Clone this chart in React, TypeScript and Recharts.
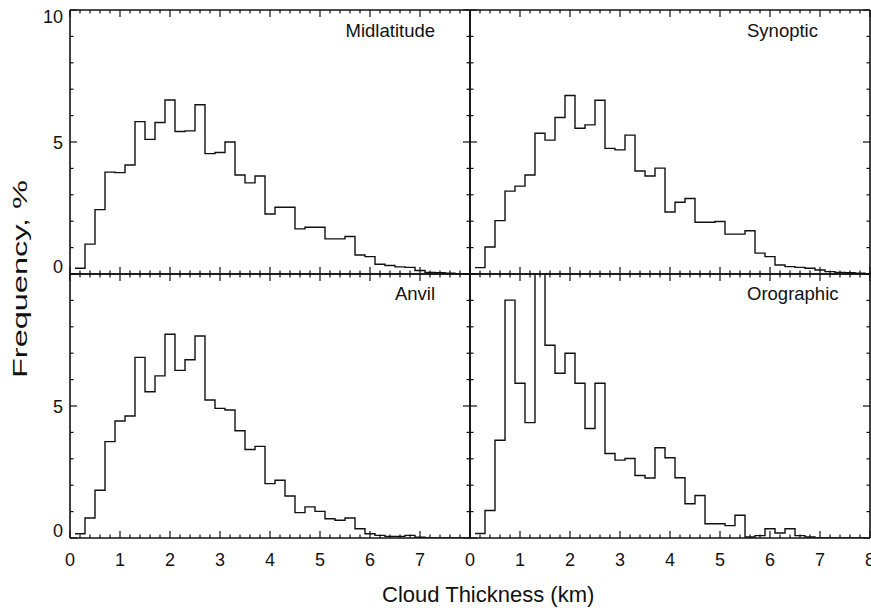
import React from 'react';
import { LineChart, Line, XAxis, YAxis, Customized } from 'recharts';

const W = 871;
const H = 610;
const FONT = '"Liberation Sans", Arial, Helvetica, sans-serif';
const INK = '#111';
const AX = 10; // room given to each axis

// left edge of each 0.2 km bin
const binStarts = [
  0.1, 0.3, 0.5, 0.7, 0.9, 1.1, 1.3, 1.5, 1.7, 1.9,
  2.1, 2.3, 2.5, 2.7, 2.9, 3.1, 3.3, 3.5, 3.7, 3.9,
  4.1, 4.3, 4.5, 4.7, 4.9, 5.1, 5.3, 5.5, 5.7, 5.9,
  6.1, 6.3, 6.5, 6.7, 6.9, 7.1, 7.3, 7.5, 7.7, 7.9,
];

const xTicks = [
  0, 0.2, 0.4, 0.6, 0.8, 1, 1.2, 1.4, 1.6, 1.8, 2, 2.2, 2.4, 2.6, 2.8, 3, 3.2, 3.4, 3.6, 3.8,
  4, 4.2, 4.4, 4.6, 4.8, 5, 5.2, 5.4, 5.6, 5.8, 6, 6.2, 6.4, 6.6, 6.8, 7, 7.2, 7.4, 7.6, 7.8, 8,
];
const yTicks = [0, 1, 2, 3, 4, 5, 6, 7, 8, 9, 10];
const xLabelsLeft = [0, 1, 2, 3, 4, 5, 6, 7];
const xLabelsRight = [0, 1, 2, 3, 4, 5, 6, 7, 8];
const yLabelsTop = [0, 5, 10];
const yLabelsBottom = [0, 5];

// frequency, %
const midlatitude = [
  0.22, 1.13, 2.44, 3.86, 3.84, 4.13, 5.77, 5.1, 5.74, 6.59,
  5.4, 5.42, 6.41, 4.56, 4.6, 5.0, 3.75, 3.45, 3.71, 2.27,
  2.53, 2.53, 1.71, 1.77, 1.77, 1.33, 1.33, 1.42, 0.72, 0.66,
  0.37, 0.32, 0.27, 0.25, 0.13, 0.06, 0.05, 0.03, 0.01, 0,
];
const synoptic = [
  0.24, 1.02, 2.02, 3.14, 3.33, 3.75, 5.33, 5.07, 5.93, 6.76,
  5.52, 5.65, 6.58, 4.76, 4.7, 5.26, 3.9, 3.71, 4.01, 2.35,
  2.72, 2.86, 1.96, 1.96, 1.99, 1.51, 1.51, 1.64, 0.79, 0.66,
  0.34, 0.28, 0.25, 0.22, 0.15, 0.09, 0.06, 0.05, 0.03, 0,
];
const anvil = [
  0.16, 0.76, 1.81, 3.65, 4.43, 4.62, 6.84, 5.54, 6.14, 7.72,
  6.35, 6.75, 7.65, 5.23, 4.91, 4.85, 4.06, 3.35, 3.47, 2.06,
  2.19, 1.59, 0.96, 1.18, 1.01, 0.73, 0.67, 0.76, 0.35, 0.16,
  0.1, 0.06, 0.06, 0.1, 0.03, 0, 0, 0, 0, 0,
];
const orographic = [
  0.17, 1.04, 3.7, 9.01, 5.86, 4.37, 12, 7.3, 6.24, 7.0,
  5.86, 4.15, 5.86, 3.2, 2.95, 3.01, 2.37, 2.27, 3.42, 3.04,
  2.28, 1.3, 1.61, 0.54, 0.54, 0.47, 0.86, 0.04, 0.09, 0.35,
  0.19, 0.35, 0.09, 0.04, 0, 0, 0, 0, 0, 0,
];

function XTick(props: any) {
  const { x, y, payload, dir, labels } = props;
  const v = payload.value;
  const major = Math.abs(v - Math.round(v)) < 1e-6;
  const len = major ? 7 : 3.5;
  const show = labels && major && labels.includes(Math.round(v));
  return (
    <g>
      <line x1={x} x2={x} y1={y} y2={y + dir * len} stroke={INK} strokeWidth={1.2} />
      {show && (
        <text x={x} y={y + 28} textAnchor="middle" fontSize={18} fontFamily={FONT} fill={INK}>
          {Math.round(v)}
        </text>
      )}
    </g>
  );
}

function YTick(props: any) {
  const { x, y, payload, dir, labels } = props;
  const v = payload.value;
  const major = v % 5 === 0;
  const len = major ? 7 : 3.5;
  const show = labels && labels.includes(v);
  const dy = v === 0 ? -1 : v === 10 ? 13 : 6.5;
  return (
    <g>
      <line x1={x} x2={x + dir * len} y1={y} y2={y} stroke={INK} strokeWidth={1.2} />
      {show && (
        <text x={x - 7} y={y + dy} textAnchor="end" fontSize={18} fontFamily={FONT} fill={INK}>
          {v}
        </text>
      )}
    </g>
  );
}

const axisLine = { stroke: INK, strokeWidth: 1.6 };

// box = plot rectangle [left, top, right, bottom] in page pixels
function Panel({ values, box, xLabels, yLabels, title, tx, ty, anchor, extra }: any) {
  const rows = binStarts.map((x, i) => ({ x, freq: values[i] }));
  const [l, t, r, b] = box;
  const margin = { left: l - AX, top: t - AX, right: W - r - AX, bottom: H - b - AX };
  return (
    <div style={{ position: 'absolute', left: 0, top: 0 }}>
      <LineChart width={W} height={H} data={rows} margin={margin}>
        <XAxis xAxisId="b" dataKey="x" type="number" domain={[0, 8]} ticks={xTicks} interval={0}
          height={AX} tickSize={0} tickMargin={0} tickLine={false} axisLine={axisLine} allowDataOverflow
          tick={(p: any) => <XTick {...p} dir={-1} labels={xLabels} />} />
        <XAxis xAxisId="t" orientation="top" dataKey="x" type="number" domain={[0, 8]} ticks={xTicks} interval={0}
          height={AX} tickSize={0} tickMargin={0} tickLine={false} axisLine={axisLine} allowDataOverflow
          tick={(p: any) => <XTick {...p} dir={1} labels={null} />} />
        <YAxis yAxisId="l" type="number" domain={[0, 10]} ticks={yTicks} interval={0}
          width={AX} tickSize={0} tickMargin={0} tickLine={false} axisLine={axisLine} allowDataOverflow
          tick={(p: any) => <YTick {...p} dir={1} labels={yLabels} />} />
        <YAxis yAxisId="r" orientation="right" type="number" domain={[0, 10]} ticks={yTicks} interval={0}
          width={AX} tickSize={0} tickMargin={0} tickLine={false} axisLine={axisLine} allowDataOverflow
          tick={(p: any) => <YTick {...p} dir={-1} labels={null} />} />
        <Line xAxisId="b" yAxisId="l" dataKey="freq" type="stepAfter" stroke={INK} strokeWidth={1.4}
          dot={false} activeDot={false} isAnimationActive={false} />
        <Customized component={() => (
          <g>
            <text x={tx} y={ty} textAnchor={anchor} fontSize={18.5} fontFamily={FONT} fill={INK}>{title}</text>
            {extra}
          </g>
        )} />
      </LineChart>
    </div>
  );
}

export default function App() {
  const titles = (
    <g>
      <text x={382} y={602} fontSize={22} fontFamily={FONT} fill={INK}>Cloud Thickness (km)</text>
      <text x={27} y={279} transform="rotate(-90 27 279)" textAnchor="middle" fontSize={21}
        fontFamily={FONT} fill={INK} textLength={198} lengthAdjust="spacingAndGlyphs">Frequency, %</text>
    </g>
  );
  return (
    <div style={{ position: 'absolute', left: 0, top: 0, width: W, height: H, background: '#fff' }}>
      <Panel values={midlatitude} box={[70, 10, 470, 274]}
        xLabels={null} yLabels={yLabelsTop} title="Midlatitude" tx={435} ty={37} anchor="end" />
      <Panel values={synoptic} box={[470, 10, 870, 274]}
        xLabels={null} yLabels={null} title="Synoptic" tx={747} ty={37} anchor="start" />
      <Panel values={anvil} box={[70, 274, 470, 538]}
        xLabels={xLabelsLeft} yLabels={yLabelsBottom} title="Anvil" tx={435} ty={300} anchor="end" extra={titles} />
      <Panel values={orographic} box={[470, 274, 870, 538]}
        xLabels={xLabelsRight} yLabels={null} title="Orographic" tx={747} ty={300} anchor="start" />
    </div>
  );
}
